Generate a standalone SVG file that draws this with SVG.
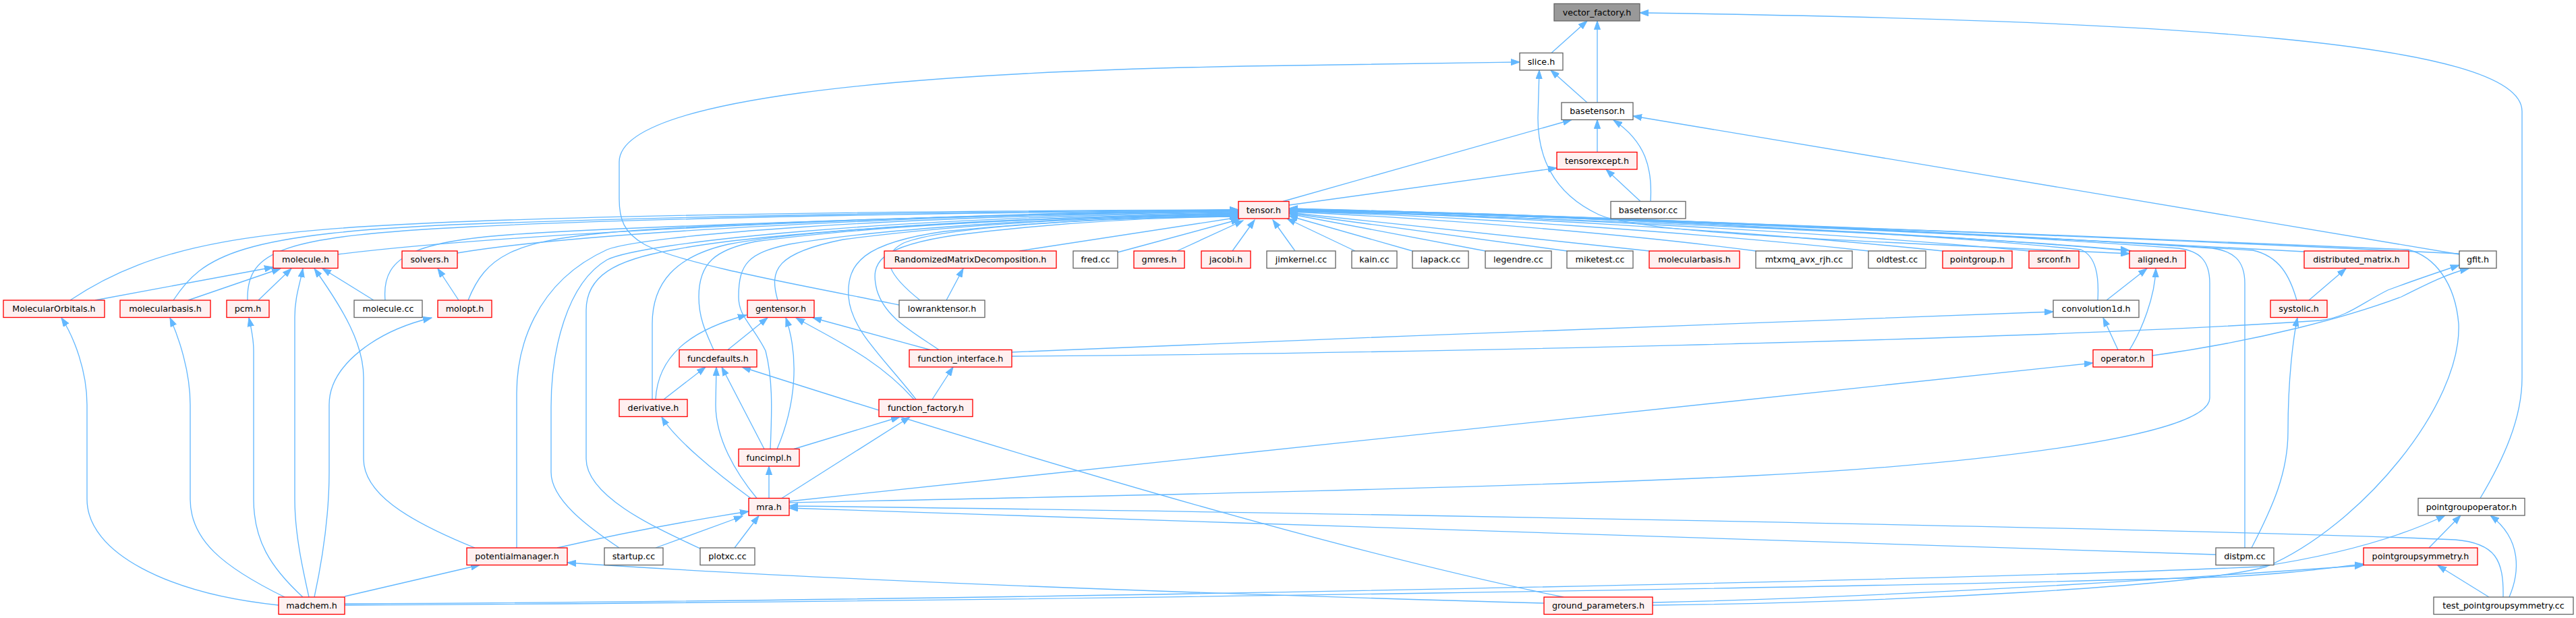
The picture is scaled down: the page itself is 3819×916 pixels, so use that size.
<svg xmlns="http://www.w3.org/2000/svg" width="3819" height="916" viewBox="0 0 3819 916">
<style>
.n rect{fill:#ffffff;stroke:#666666;stroke-width:1.33}
.r rect{fill:#fff0f0;stroke:#ff0000;stroke-width:1.33}
.root rect{fill:#999999;stroke:#666666;stroke-width:1.33}
text{font-family:"DejaVu Sans","Liberation Sans",sans-serif;font-size:12.7px;fill:#000000;text-anchor:middle}
#edges path{fill:none;stroke:#63b8ff;stroke-width:1.33;marker-end:url(#a)}
</style>
<defs>
<marker id="a" markerUnits="userSpaceOnUse" markerWidth="14" markerHeight="10" refX="13" refY="5" orient="auto"><path d="M0,0.4 L13,5 L0,9.6 z" fill="#63b8ff" stroke="#63b8ff" stroke-width="1"/></marker>
<marker id="b" markerUnits="userSpaceOnUse" markerWidth="14" markerHeight="10" refX="13" refY="5" orient="auto-start-reverse"><path d="M0,0.4 L13,5 L0,9.6 z" fill="#63b8ff" stroke="#63b8ff" stroke-width="1"/></marker>
</defs>
<rect width="3819" height="916" fill="#ffffff"/>
<g id="edges">
<path d="M2300,78.5 L2353,31"/>
<path d="M2368,152 L2368,31"/>
<path d="M3677,738.5 C3712,680 3739,620 3739,560 L3739,165 C3739,60 3200,30 2431,19"/>
<path d="M2353,152 L2299,104"/>
<path d="M1333,452 C1200,425 1010,392 955,362 C925,345 918,325 918,295 L918,240 C918,150 1300,105 1920,97 C2050,95 2150,93 2253,92"/>
<path d="M3157,376 C2700,355 2430,345 2370,318 C2300,285 2280,230 2280,175 L2282,104" style="marker-start:url(#b)"/>
<path d="M2368,225.5 L2368,177.5"/>
<path d="M2447,298.5 C2450,250 2440,210 2392,178"/>
<path d="M2432,298.5 L2381,251"/>
<path d="M1902,298.5 L2330,177.5"/>
<path d="M1911,304 L2308,249"/>
<path d="M3646,377 L2421,172"/>
<path d="M501,377 C800,340 1500,315 1836,311"/>
<path d="M678,375 C900,338 1500,316 1836,312"/>
<path d="M104,445 C230,360 380,340 700,328 S1500,312 1836,311"/>
<path d="M257,445 C300,380 350,345 700,332 S1500,313 1836,311"/>
<path d="M367,445 C365,370 420,350 700,336 S1500,314 1836,312"/>
<path d="M571,445 C565,375 620,355 800,345 S1500,316 1836,313"/>
<path d="M694,445 C720,380 760,358 900,345 S1500,316 1836,313"/>
<path d="M766,812 L766,583 C766,520 790,420 900,370 C950,350 1300,320 1836,314"/>
<path d="M918,812 C870,780 817,740 817,700 L817,603 C817,520 840,420 900,385 C950,360 1300,322 1836,315"/>
<path d="M1040,814 C990,790 869,740 869,680 L869,460 C869,410 910,385 1000,370 C1100,350 1400,325 1836,316"/>
<path d="M967,592 L967,480 C967,420 1000,380 1080,362 C1200,340 1500,322 1836,316"/>
<path d="M1058,518.5 C1045,490 1036,470 1036,440 C1036,390 1060,370 1120,358 C1250,340 1500,322 1836,317"/>
<path d="M1142,665.5 C1145,600 1145,560 1135,520 C1115,480 1095,470 1095,440 C1095,390 1110,375 1170,362 C1300,340 1550,322 1836,318"/>
<path d="M1153,445 C1140,400 1150,375 1250,355 C1400,335 1600,322 1836,319"/>
<path d="M1358,592 C1310,530 1262,490 1258,440 C1255,390 1280,360 1400,343 C1550,328 1700,321 1836,320"/>
<path d="M1392,518.5 C1350,490 1312,470 1300,430 C1290,390 1300,365 1420,348 C1550,332 1700,322 1836,321"/>
<path d="M1364,445 C1320,410 1300,380 1340,360 C1400,335 1650,322 1836,321"/>
<path d="M1511,372 L1837,322"/>
<path d="M1657,374 L1838,325"/>
<path d="M1745,372 L1843,327"/>
<path d="M1827,372 L1860,326"/>
<path d="M1920,372 L1887,326"/>
<path d="M2009,372 L1908,324"/>
<path d="M2094,372 L1911,320"/>
<path d="M2202,372 L1911,317"/>
<path d="M2323,372 L1911,316"/>
<path d="M2445,372 L1911,315"/>
<path d="M2603,372 C2400,345 2100,322 1911,314"/>
<path d="M2770,372 C2500,343 2150,320 1911,313"/>
<path d="M2880,372 C2600,343 2200,318 1911,312"/>
<path d="M3008,372 C2700,343 2200,317 1911,312"/>
<path d="M3160,372 C2800,340 2200,316 1911,311"/>
<path d="M1911,313 C2300,322 2900,348 3157,371"/>
<path d="M3110,445 C3112,410 3108,380 3085,370 C2800,340 2200,316 1911,311"/>
<path d="M1170,745 C1500,738 2200,725 2600,705 C2900,690 3276,650 3276,590 L3276,420 C3276,385 3260,372 3230,368 C2800,336 2200,315 1911,310"/>
<path d="M3328,812 L3328,420 C3328,385 3310,372 3280,368 C2800,336 2200,315 1911,310"/>
<path d="M3405,445 C3395,410 3380,380 3340,371 C2800,337 2200,316 1911,310"/>
<path d="M3416,373 C2800,340 2200,316 1911,310"/>
<path d="M3646,376 C3000,345 2200,316 1911,309"/>
<path d="M2450,897 C2800,893 3250,870 3360,840 C3500,780 3650,600 3645,480 C3640,420 3610,380 3570,370 C3000,345 2200,316 1911,309"/>
<path d="M1500,528 C2000,525 3000,505 3440,475 C3480,470 3500,450 3540,430 C3580,415 3610,405 3646,393"/>
<path d="M3191,527 C3350,505 3480,470 3560,440 C3600,420 3630,405 3660,398"/>
<path d="M1500,522 C2000,500 2700,475 3044,462"/>
<path d="M3140,518.5 L3118,471"/>
<path d="M3157,518.5 C3175,490 3195,440 3196,398"/>
<path d="M3123,445 L3183,398"/>
<path d="M1170,743 L3103,538"/>
<path d="M3423,445 L3478,398"/>
<path d="M3338,812 C3370,750 3392,700 3392,640 C3392,560 3400,500 3406,471"/>
<path d="M3285,822 C2800,805 1900,778 1170,753"/>
<path d="M3711,885 C3712,830 3700,805 3640,800 C3300,785 2000,760 1170,750"/>
<path d="M3690,885 L3614,838"/>
<path d="M3720,885 C3735,850 3740,800 3692,764"/>
<path d="M3601,812 L3648,764"/>
<path d="M511,895 C1500,890 2900,860 3350,840 C3450,825 3550,800 3625,764"/>
<path d="M511,897 C1500,892 2900,868 3300,855 C3400,850 3450,842 3504,836"/>
<path d="M2450,893 C2800,885 3200,860 3504,838"/>
<path d="M2289,894 C2000,886 1300,865 841,834"/>
<path d="M2318,885 Q1900,800 1100,544"/>
<path d="M511,884 L711,837.5"/>
<path d="M413,897 C250,880 129,820 129,740 L129,600 C129,550 110,500 91,471"/>
<path d="M422,885 C330,840 282,800 282,740 L282,600 C282,550 265,500 252,471"/>
<path d="M449,885 C400,840 376,800 376,740 L376,520 C376,500 372,485 369,471"/>
<path d="M458,885 C448,840 437,790 437,740 L437,470 C437,440 445,420 449,398"/>
<path d="M466,885 C480,820 488,760 488,700 L488,600 C488,540 560,490 640,471"/>
<path d="M141,445 L405,396"/>
<path d="M279,445 L416,398"/>
<path d="M383,445 L432,398"/>
<path d="M554,445 L478,398"/>
<path d="M704,812 C600,770 539,730 539,680 L539,560 C539,510 510,460 466,398"/>
<path d="M680,445 L649,398"/>
<path d="M826,812 C900,795 1000,775 1110,758"/>
<path d="M972,812 L1101,765"/>
<path d="M1089,812 L1125,764.5"/>
<path d="M1140,738.5 L1140,691"/>
<path d="M1159,738.5 L1349,618"/>
<path d="M1122,738.5 C1090,700 1061,650 1061,600 L1062,544"/>
<path d="M1113,738.5 C1060,700 1000,650 981,618"/>
<path d="M1133,665.5 L1070,544"/>
<path d="M1152,665.5 C1180,600 1185,530 1165,471"/>
<path d="M1177,665.5 L1334,618"/>
<path d="M1382,592 L1413,544"/>
<path d="M1355,592 C1300,530 1230,500 1180,471"/>
<path d="M1379,518.5 L1205,471"/>
<path d="M1079,518.5 L1138,471"/>
<path d="M984,592 L1046,544"/>
<path d="M972,592 C975,530 1020,490 1107,467"/>
<path d="M1403,445 L1428,398"/>
</g>
<g id="vector_factory_h" class="root"><rect x="2304" y="5.5" width="127" height="25.5"/><text x="2367.5" y="22.5">vector_factory.h</text></g>
<g id="slice_h" class="n"><rect x="2253" y="78.5" width="64" height="25.5"/><text x="2285" y="95.5">slice.h</text></g>
<g id="basetensor_h" class="n"><rect x="2315" y="152" width="106" height="25.5"/><text x="2368" y="169">basetensor.h</text></g>
<g id="tensorexcept_h" class="r"><rect x="2308" y="225.5" width="119" height="25.5"/><text x="2367.5" y="242.5">tensorexcept.h</text></g>
<g id="tensor_h" class="r"><rect x="1836" y="298.5" width="75" height="25.5"/><text x="1873.5" y="315.5">tensor.h</text></g>
<g id="basetensor_cc" class="n"><rect x="2388" y="298.5" width="111" height="25.5"/><text x="2443.5" y="315.5">basetensor.cc</text></g>
<g id="molecule_h" class="r"><rect x="405" y="372" width="96" height="25.5"/><text x="453" y="389">molecule.h</text></g>
<g id="solvers_h" class="r"><rect x="596" y="372" width="82" height="25.5"/><text x="637" y="389">solvers.h</text></g>
<g id="RandomizedMatrixDecomposition_h" class="r"><rect x="1311" y="372" width="255" height="25.5"/><text x="1438.5" y="389">RandomizedMatrixDecomposition.h</text></g>
<g id="fred_cc" class="n"><rect x="1591" y="372" width="66" height="25.5"/><text x="1624" y="389">fred.cc</text></g>
<g id="gmres_h" class="r"><rect x="1681" y="372" width="75" height="25.5"/><text x="1718.5" y="389">gmres.h</text></g>
<g id="jacobi_h" class="r"><rect x="1781" y="372" width="73" height="25.5"/><text x="1817.5" y="389">jacobi.h</text></g>
<g id="jimkernel_cc" class="n"><rect x="1878" y="372" width="102" height="25.5"/><text x="1929" y="389">jimkernel.cc</text></g>
<g id="kain_cc" class="n"><rect x="2004" y="372" width="67" height="25.5"/><text x="2037.5" y="389">kain.cc</text></g>
<g id="lapack_cc" class="n"><rect x="2094" y="372" width="83" height="25.5"/><text x="2135.5" y="389">lapack.cc</text></g>
<g id="legendre_cc" class="n"><rect x="2202" y="372" width="98" height="25.5"/><text x="2251" y="389">legendre.cc</text></g>
<g id="miketest_cc" class="n"><rect x="2323" y="372" width="98" height="25.5"/><text x="2372" y="389">miketest.cc</text></g>
<g id="molecularbasis_h_2" class="r"><rect x="2445" y="372" width="134" height="25.5"/><text x="2512" y="389">molecularbasis.h</text></g>
<g id="mtxmq_avx_rjh_cc" class="n"><rect x="2603" y="372" width="143" height="25.5"/><text x="2674.5" y="389">mtxmq_avx_rjh.cc</text></g>
<g id="oldtest_cc" class="n"><rect x="2770" y="372" width="85" height="25.5"/><text x="2812.5" y="389">oldtest.cc</text></g>
<g id="pointgroup_h" class="r"><rect x="2880" y="372" width="103" height="25.5"/><text x="2931.5" y="389">pointgroup.h</text></g>
<g id="srconf_h" class="r"><rect x="3008" y="372" width="74" height="25.5"/><text x="3045" y="389">srconf.h</text></g>
<g id="aligned_h" class="r"><rect x="3157" y="372" width="83" height="25.5"/><text x="3198.5" y="389">aligned.h</text></g>
<g id="distributed_matrix_h" class="r"><rect x="3416" y="372" width="155" height="25.5"/><text x="3493.5" y="389">distributed_matrix.h</text></g>
<g id="gfit_h" class="n"><rect x="3646" y="372" width="55" height="25.5"/><text x="3673.5" y="389">gfit.h</text></g>
<g id="MolecularOrbitals_h" class="r"><rect x="5" y="445" width="150" height="25.5"/><text x="80" y="462">MolecularOrbitals.h</text></g>
<g id="molecularbasis_h" class="r"><rect x="178" y="445" width="134" height="25.5"/><text x="245" y="462">molecularbasis.h</text></g>
<g id="pcm_h" class="r"><rect x="336" y="445" width="63" height="25.5"/><text x="367.5" y="462">pcm.h</text></g>
<g id="molecule_cc" class="n"><rect x="525" y="445" width="101" height="25.5"/><text x="575.5" y="462">molecule.cc</text></g>
<g id="molopt_h" class="r"><rect x="649" y="445" width="80" height="25.5"/><text x="689" y="462">molopt.h</text></g>
<g id="gentensor_h" class="r"><rect x="1108" y="445" width="99" height="25.5"/><text x="1157.5" y="462">gentensor.h</text></g>
<g id="lowranktensor_h" class="n"><rect x="1333" y="445" width="127" height="25.5"/><text x="1396.5" y="462">lowranktensor.h</text></g>
<g id="convolution1d_h" class="n"><rect x="3044" y="445" width="127" height="25.5"/><text x="3107.5" y="462">convolution1d.h</text></g>
<g id="systolic_h" class="r"><rect x="3366" y="445" width="84" height="25.5"/><text x="3408" y="462">systolic.h</text></g>
<g id="funcdefaults_h" class="r"><rect x="1007" y="518.5" width="115" height="25.5"/><text x="1064.5" y="535.5">funcdefaults.h</text></g>
<g id="function_interface_h" class="r"><rect x="1348" y="518.5" width="152" height="25.5"/><text x="1424" y="535.5">function_interface.h</text></g>
<g id="operator_h" class="r"><rect x="3103" y="518.5" width="88" height="25.5"/><text x="3147" y="535.5">operator.h</text></g>
<g id="derivative_h" class="r"><rect x="918" y="592" width="101" height="25.5"/><text x="968.5" y="609">derivative.h</text></g>
<g id="function_factory_h" class="r"><rect x="1303" y="592" width="139" height="25.5"/><text x="1372.5" y="609">function_factory.h</text></g>
<g id="funcimpl_h" class="r"><rect x="1095" y="665.5" width="90" height="25.5"/><text x="1140" y="682.5">funcimpl.h</text></g>
<g id="mra_h" class="r"><rect x="1110" y="738.5" width="60" height="25.5"/><text x="1140" y="755.5">mra.h</text></g>
<g id="pointgroupoperator_h" class="n"><rect x="3585" y="738.5" width="158" height="25.5"/><text x="3664" y="755.5">pointgroupoperator.h</text></g>
<g id="potentialmanager_h" class="r"><rect x="692" y="812" width="149" height="25.5"/><text x="766.5" y="829">potentialmanager.h</text></g>
<g id="startup_cc" class="n"><rect x="896" y="812" width="87" height="25.5"/><text x="939.5" y="829">startup.cc</text></g>
<g id="plotxc_cc" class="n"><rect x="1038" y="812" width="81" height="25.5"/><text x="1078.5" y="829">plotxc.cc</text></g>
<g id="distpm_cc" class="n"><rect x="3285" y="812" width="86" height="25.5"/><text x="3328" y="829">distpm.cc</text></g>
<g id="pointgroupsymmetry_h" class="r"><rect x="3504" y="812" width="169" height="25.5"/><text x="3588.5" y="829">pointgroupsymmetry.h</text></g>
<g id="madchem_h" class="r"><rect x="413" y="885" width="98" height="25.5"/><text x="462" y="902">madchem.h</text></g>
<g id="ground_parameters_h" class="r"><rect x="2289" y="885" width="161" height="25.5"/><text x="2369.5" y="902">ground_parameters.h</text></g>
<g id="test_pointgroupsymmetry_cc" class="n"><rect x="3608" y="885" width="207" height="25.5"/><text x="3711.5" y="902">test_pointgroupsymmetry.cc</text></g>
</svg>
